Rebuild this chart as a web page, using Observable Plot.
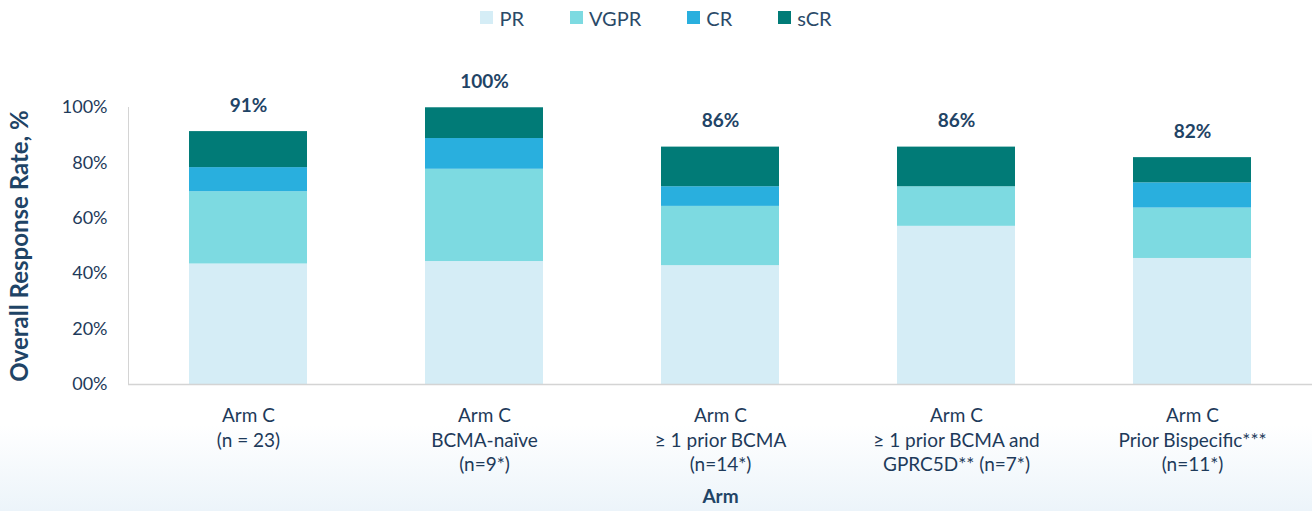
<!DOCTYPE html>
<html>
<head>
<meta charset="utf-8">
<script src="https://cdn.jsdelivr.net/npm/d3@7"></script>
<script src="https://cdn.jsdelivr.net/npm/@observablehq/plot@0.6"></script>
<style>
  html, body { margin: 0; padding: 0; }
  body {
    width: 1312px; height: 511px; overflow: hidden;
    font-family: Lato, "Open Sans", sans-serif;
    background: linear-gradient(to bottom, #ffffff 0px, #ffffff 425px, #ecf4fa 511px);
  }
  #legend {
    height: 35px; display: flex; justify-content: center; align-items: center;
    gap: 46px; font-size: 20px; color: #2b4a68; box-sizing: border-box;
  }
  #legend .item { display: flex; align-items: center; gap: 6px; }
  #legend .sw { width: 13px; height: 13px; display: inline-block; }
  #chart svg { display: block; background: transparent; }
</style>
</head>
<body>
<div id="legend"></div>
<div id="chart"></div>
<script>
const categories = [
  "Arm C\n(n = 23)",
  "Arm C\nBCMA-naïve\n(n=9*)",
  "Arm C\n≥ 1 prior BCMA\n(n=14*)",
  "Arm C\n≥ 1 prior BCMA and\nGPRC5D** (n=7*)",
  "Arm C\nPrior Bispecific***\n(n=11*)"
];
const seriesNames = ["PR", "VGPR", "CR", "sCR"];
const seriesColors = ["#d5edf6", "#7ddae1", "#29afde", "#017b77"];
const PR   = [43.5, 44.4, 42.9, 57.1, 45.5];
const VGPR = [26.1, 33.3, 21.4, 14.3, 18.2];
const CR   = [8.7, 11.1, 7.1, 0, 9.1];
const sCR  = [13.0, 11.1, 14.3, 14.3, 9.1];
const totals = [91.3, 100, 85.7, 85.7, 81.8];
const totalLabels = ["91%", "100%", "86%", "86%", "82%"];
const yTicks = [0, 20, 40, 60, 80, 100];
const yTickLabels = ["00%", "20%", "40%", "60%", "80%", "100%"];

const seriesValues = [PR, VGPR, CR, sCR];
const rows = [];
categories.forEach((c, i) => {
  seriesNames.forEach((s, j) => rows.push({arm: c, series: s, value: seriesValues[j][i]}));
});
const totalRows = categories.map((c, i) => ({arm: c, total: totals[i], label: totalLabels[i]}));

// Legend
const legend = document.getElementById("legend");
seriesNames.forEach((s, j) => {
  const it = document.createElement("span");
  it.className = "item";
  it.innerHTML = `<span class="sw" style="background:${seriesColors[j]}"></span><span>${s}</span>`;
  legend.appendChild(it);
});

const textColor = "#1e3a5a";
const chart = Plot.plot({
  width: 1312,
  height: 476,
  marginLeft: 128,
  marginRight: 0,
  marginTop: 72,
  marginBottom: 127,
  style: {fontFamily: "Lato, 'Open Sans', sans-serif", background: "transparent"},
  x: {domain: categories, paddingInner: 0.5, paddingOuter: 0.25},
  y: {domain: [0, 100]},
  color: {domain: seriesNames, range: seriesColors},
  marks: [
    Plot.barY(rows, {x: "arm", y: "value", fill: "series", order: null}),
    Plot.frame({anchor: "left", stroke: "#d4d4d4"}),
    Plot.ruleY([0], {stroke: "#d4d4d4", strokeWidth: 1.5}),
    Plot.text(totalRows, {x: "arm", y: "total", text: "label", dy: -26, fontSize: 19, fontWeight: "bold", fill: "#1f4466"}),
    Plot.axisY({
      ticks: yTicks, tickSize: 0, tickPadding: 21, fontSize: 18, fill: textColor,
      tickFormat: d => yTickLabels[yTicks.indexOf(d)],
      label: "Overall Response Rate, %", labelAnchor: "center", labelArrow: "none", labelOffset: 118
    }),
    Plot.axisX({
      tickSize: 0, tickPadding: 20, fontSize: 19, fill: textColor, lineHeight: 1.3,
      label: "Arm", labelAnchor: "center", labelArrow: "none", labelOffset: 118
    })
  ]
});
document.getElementById("chart").appendChild(chart);
chart.querySelectorAll('[aria-label="y-axis label"]').forEach(g => {
  g.setAttribute("font-size", 24);
  g.setAttribute("fill", "#1f4466");
  g.setAttribute("font-weight", "bold");
});
chart.querySelectorAll('[aria-label="x-axis label"]').forEach(g => {
  g.setAttribute("font-size", 19);
  g.setAttribute("fill", "#1f4466");
  g.setAttribute("font-weight", "bold");
});
</script>
</body>
</html>
